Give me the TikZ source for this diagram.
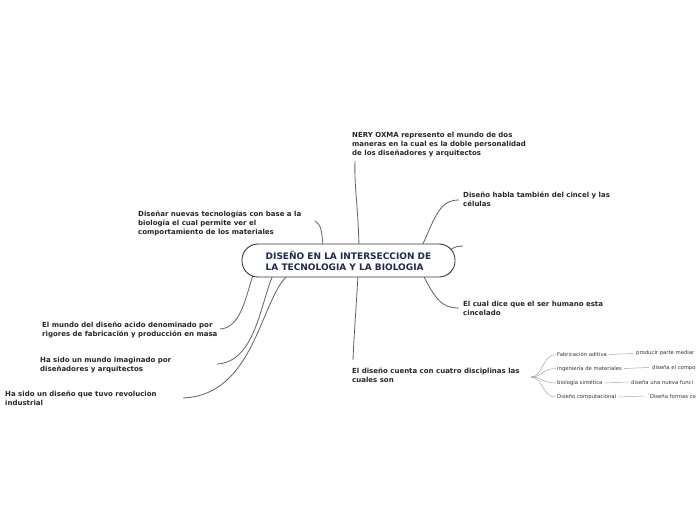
\documentclass[tikz,border=0pt]{standalone}
\usepackage{fontspec}
\setmainfont{DejaVu Sans}
\begin{document}
\begin{tikzpicture}[x=1pt,y=-1pt,
  conn/.style={draw=black!62, line width=0.8pt},
  subconn/.style={draw=black!35, line width=0.5pt},
  topic/.style={anchor=north west, inner sep=0pt, align=left, text=black!85,
    font=\fontsize{7}{8.9}\selectfont\bfseries},
  subtopic/.style={anchor=west, inner sep=0pt, text=black!80,
    font=\fontsize{5.3}{6}\selectfont},
  central/.style={draw=black!78, line width=0.9pt, fill=white, rounded corners=16pt,
    minimum width=213pt, minimum height=33pt, inner sep=0pt, text=navytext,
    font=\fontsize{9}{11}\selectfont\bfseries, align=left}
]
\definecolor{navytext}{HTML}{1C2B4F}
\clip (0,0) rectangle (696,520);
\useasboundingbox (0,0) rectangle (696,520);

% text nodes
\node[topic] (n1) at (352,132) {NERY OXMA represento el mundo de dos\\maneras en la cual es la doble personalidad\\de los diseñadores y arquitectos};
\node[topic] (n2) at (463,192) {Diseño habla también del cincel y las\\células};
\node[topic] (n3) at (463,301) {El cual dice que el ser humano esta\\cincelado};
\node[topic] (n4) at (352,368) {El diseño cuenta con cuatro disciplinas las\\cuales son};
\node[topic] (n5) at (138,211) {Diseñar nuevas tecnologías con base a la\\biología el cual permite ver el\\comportamiento de los materiales};
\node[topic] (n6) at (42,322) {El mundo del diseño acido denominado por\\rigores de fabricación y producción en masa};
\node[topic] (n7) at (40,357) {Ha sido un mundo imaginado por\\diseñadores y arquitectos};
\node[topic] (n8) at (5,391) {Ha sido un diseño que tuvo revolucion\\industrial};

% connector end points
\coordinate (e1) at (355,161);
\coordinate (e2) at (459,200);
\coordinate (eb) at (463,246);
\coordinate (e3) at (459,308);
\coordinate (e4) at (353,360);
\coordinate (e5) at (315,221);
\coordinate (e6) at (220,329);
\coordinate (e7) at (217,364);
\coordinate (e8) at (183,398);
\coordinate (f) at (531,377);

% main connectors
\draw[conn] (359,246) .. controls (358,205) and (354,185) .. (e1);
\draw[conn] (422,246) .. controls (436,215) and (440,200) .. (e2);
\draw[conn] (450,250) .. controls (454,247) and (458,246) .. (eb);
\draw[conn] (423,275) .. controls (436,300) and (442,308) .. (e3);
\draw[conn] (358,275) .. controls (356,310) and (354,335) .. (e4);
\draw[conn] (323,246) .. controls (322,232) and (321,224) .. (e5);
\draw[conn] (253,275) .. controls (245,300) and (240,328) .. (e6);
\draw[conn] (273,275) .. controls (260,305) and (255,362) .. (e7);
\draw[conn] (288,275) .. controls (260,300) and (255,395) .. (e8);

% central node
\node[central] (c) at (348.5,260.5) {DISEÑO EN LA INTERSECCION DE\\LA TECNOLOGIA Y LA BIOLOGIA};

% sub topics
\node[subtopic] (s1) at (557,354.5) {Fabricación aditiva};
\node[subtopic] (s2) at (557,368.5) {ingeniería de materiales};
\node[subtopic] (s3) at (557,383) {biología sintética};
\node[subtopic] (s4) at (557,397) {Diseño computacional};
\node[subtopic] (t1) at (636,353.5) {producir parte mediar};
\node[subtopic] (t2) at (652,367.5) {diseña el compo};
\node[subtopic] (t3) at (631,382) {diseña una nueva funci};
\node[subtopic] (t4) at (647,396) {´Diseña formas co};

\foreach \s in {s1,s2,s3,s4}{
  \draw[subconn] (f) .. controls (543,377) and (542,0|-\s.west) .. ([xshift=-1pt]\s.west);
}
\draw[subconn] ([xshift=2pt]s1.east) -- ([xshift=-3pt]t1.west);
\draw[subconn] ([xshift=2pt]s2.east) -- ([xshift=-3pt]t2.west);
\draw[subconn] ([xshift=2pt]s3.east) -- ([xshift=-3pt]t3.west);
\draw[subconn] ([xshift=2pt]s4.east) -- ([xshift=-3pt]t4.west);
\end{tikzpicture}
\end{document}
